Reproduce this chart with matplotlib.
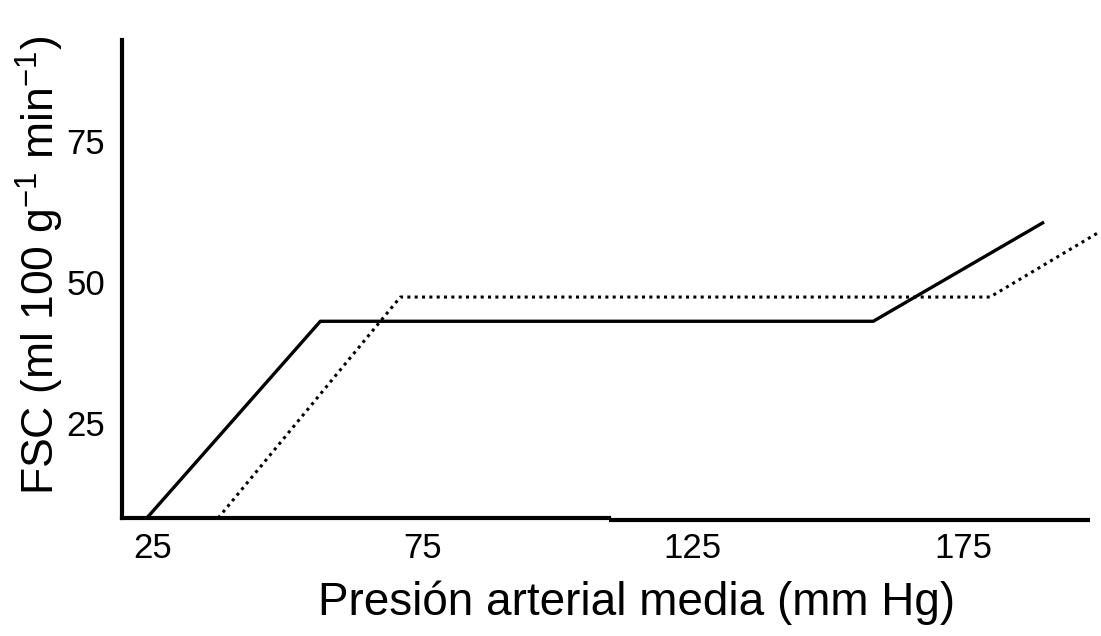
import matplotlib
matplotlib.use("Agg")
import matplotlib.pyplot as plt
from matplotlib import font_manager

# ---- data ----
solid_x = [24.0, 56.1, 158.4, 190.0]
solid_y = [8.1, 43.0, 43.0, 60.6]
dotted_x = [37.2, 70.9, 180.0, 199.8]
dotted_y = [8.1, 47.3, 47.3, 58.6]
x_ticks = [25, 75, 125, 175]
y_ticks = [25, 50, 75]
x_label = "Presión arterial media (mm Hg)"
y_label = r"FSC (ml 100 g$^{\mathregular{-1}}$ min$^{\mathregular{-1}}$)"

names = {f.name for f in font_manager.fontManager.ttflist}
fam = ["Liberation Sans Narrow", "Liberation Sans", "DejaVu Sans"]
fam = [f for f in fam if f in names] or ["DejaVu Sans"]
plt.rcParams['font.family'] = fam
plt.rcParams['mathtext.fontset'] = 'custom'
plt.rcParams['mathtext.rm'] = fam[0]

W, H = 1101, 636
fig = plt.figure(figsize=(W / 100, H / 100), dpi=100)
L, R, T, B = 122, 1090, 40, 518
ax = fig.add_axes([L / W, (H - B) / H, (R - L) / W, (B - T) / H])

ax.plot(solid_x, solid_y, color="black", lw=2.4, solid_capstyle="butt", clip_on=False)
ax.plot(dotted_x, dotted_y, color="black", lw=2.2, linestyle=(0, (1, 1.4)), clip_on=False)

ax.set_xlim(19.4, 198.5)
ax.set_ylim(8.1, 92.9)

for s in ["top", "right", "bottom"]:
    ax.spines[s].set_visible(False)
ax.spines["left"].set_linewidth(3)

# bottom axis line drawn in two pieces with a small step (as in the reference)
ax.plot([0, 0.503], [0, 0], transform=ax.transAxes, color="black", lw=3, clip_on=False,
        solid_capstyle="projecting")
ax.plot([0.503, 1], [-0.005, -0.005], transform=ax.transAxes, color="black", lw=3, clip_on=False,
        solid_capstyle="butt")

ax.set_xticks(x_ticks)
ax.set_xticklabels([str(v) for v in x_ticks])
ax.set_yticks(y_ticks)
ax.set_yticklabels([str(v) for v in y_ticks])
ax.tick_params(axis="both", length=0, labelsize=25)
ax.tick_params(axis="x", pad=10)
ax.tick_params(axis="y", pad=12)

ax.set_xlabel(x_label, fontsize=33)
ax.xaxis.label.set_va("center")
ax.xaxis.set_label_coords((637 - L) / (R - L), (B - 603) / (B - T))

ax.set_ylabel(y_label, fontsize=32)
ax.yaxis.label.set_va("center")
ax.yaxis.set_label_coords((40 - L) / (R - L), (B - 265) / (B - T))

fig.savefig("out.png", dpi=100, facecolor="white")
